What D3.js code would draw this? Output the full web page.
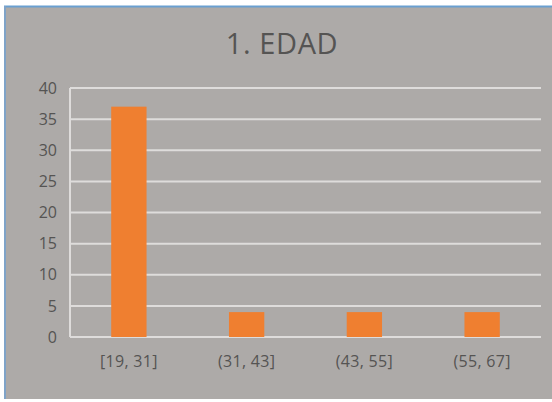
<!DOCTYPE html>
<html>
<head>
<meta charset="utf-8">
<script src="https://cdn.jsdelivr.net/npm/d3@7"></script>
<style>
  html, body { margin: 0; padding: 0; background: #fff; }
  svg { display: block; }
</style>
</head>
<body>
<div id="chart"></div>
<script>
var title = "1. EDAD";
var categories = ["[19, 31]", "(31, 43]", "(43, 55]", "(55, 67]"];
var counts = [37, 4, 4, 4];
var yTicks = [0, 5, 10, 15, 20, 25, 30, 35, 40];

var W = 552, H = 402;
var plot = {left: 70, right: 541, top: 88, bottom: 337};

var svg = d3.select("#chart").append("svg")
    .attr("width", W)
    .attr("height", H);

// frame: white edge, blue border line, gray chart area
svg.append("rect").attr("width", W).attr("height", H).attr("fill", "#fff");
svg.append("rect")
    .attr("x", 4).attr("y", 6)
    .attr("width", W - 4).attr("height", 393)
    .attr("fill", "#adaaa8");
svg.append("line")
    .attr("x1", 4).attr("x2", W).attr("y1", 6.5).attr("y2", 6.5)
    .attr("stroke", "#6a9fd0").attr("stroke-width", 2);
svg.append("line")
    .attr("x1", 5).attr("x2", 5).attr("y1", 6).attr("y2", 399)
    .attr("stroke", "#7fa3c8").attr("stroke-width", 2);

var xScale = d3.scaleBand()
    .domain(categories)
    .range([plot.left, plot.right])
    .paddingInner(0.7)
    .paddingOuter(0.35);

var yScale = d3.scaleLinear()
    .domain([0, 40])
    .range([plot.bottom, plot.top]);

// gridlines
svg.append("g")
    .attr("class", "grid")
  .selectAll("line")
    .data(yTicks)
  .enter().append("line")
    .attr("x1", plot.left)
    .attr("x2", plot.right)
    .attr("y1", function(d) { return yScale(d); })
    .attr("y2", function(d) { return yScale(d); })
    .attr("stroke", "#dedcdb")
    .attr("stroke-width", 2);

// left axis line
svg.append("line")
    .attr("x1", plot.left).attr("x2", plot.left)
    .attr("y1", plot.top).attr("y2", plot.bottom)
    .attr("stroke", "#dedcdb")
    .attr("stroke-width", 2);

// y axis labels
var yAxis = svg.append("g")
    .attr("transform", "translate(" + (plot.left - 13) + ",0)")
    .call(d3.axisLeft(yScale).tickValues(yTicks).tickSize(0).tickPadding(0));
yAxis.select(".domain").remove();
yAxis.selectAll("text")
    .attr("fill", "#555453")
    .style("font-family", "'Open Sans', sans-serif")
    .style("font-size", "16px");

// x axis labels
var xAxis = svg.append("g")
    .attr("transform", "translate(0," + plot.bottom + ")")
    .call(d3.axisBottom(xScale).tickSize(0).tickPadding(19));
xAxis.select(".domain").remove();
xAxis.selectAll("text")
    .attr("fill", "#555453")
    .style("font-family", "'Open Sans', sans-serif")
    .style("font-size", "16px")
    .style("letter-spacing", "0.3px");

// bars
svg.selectAll(".bars")
    .data(counts)
  .enter().append("rect")
    .attr("class", "bars")
    .attr("x", function(d, i) { return xScale(categories[i]); })
    .attr("y", function(d) { return yScale(d); })
    .attr("width", xScale.bandwidth())
    .attr("height", function(d) { return plot.bottom - yScale(d); })
    .attr("fill", "#ef7f30");

// title
svg.append("text")
    .attr("x", 282)
    .attr("y", 54)
    .attr("text-anchor", "middle")
    .attr("fill", "#555453")
    .style("font-family", "'Open Sans', sans-serif")
    .style("font-size", "29px")
    .style("letter-spacing", "0.6px")
    .text(title);
</script>
</body>
</html>
